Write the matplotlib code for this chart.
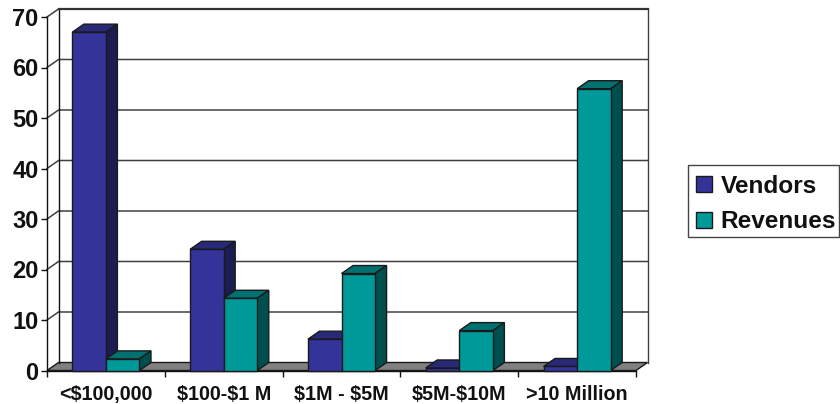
import numpy as np
import matplotlib
matplotlib.use('Agg')
import matplotlib.pyplot as plt
from matplotlib.patches import Polygon, Patch, Rectangle

categories = ['<$100,000', '$100-$1 M', '$1M - $5M', '$5M-$10M', '>10 Million']
vendors = [67, 24, 6.2, 0.5, 0.8]
revenues = [2.3, 14.3, 19.2, 7.9, 55.8]
y_ticks = [0, 10, 20, 30, 40, 50, 60, 70]

plt.rcParams['font.family'] = ['Liberation Sans', 'DejaVu Sans']
plt.rcParams['font.weight'] = 'bold'
plt.rcParams['text.parse_math'] = False  # labels have dollar signs

W, H = 840, 404
LEFT, RIGHT, BOTTOM, TOP = 47, 636, 370.5, 17

BAR_W = 0.285
DX = 11.5 / ((RIGHT - LEFT) / len(categories))  # depth in category units
DY = 8 / ((BOTTOM - TOP) / 70)                  # depth in value units
EDGE = '#1a1a1a'


def add_poly(ax, pts, color, z, lw=1.0, ec=EDGE):
    ax.add_patch(Polygon(pts, closed=True, facecolor=color, edgecolor=ec,
                         linewidth=lw, zorder=z, clip_on=False, joinstyle='miter'))


def draw_bar(ax, x, val, front, top, side, z):
    ax.bar(x, val, BAR_W, align='edge', color=front, edgecolor=EDGE, linewidth=1.0,
           zorder=z + 0.2, clip_on=False)
    add_poly(ax, [(x, val), (x + DX, val + DY), (x + BAR_W + DX, val + DY), (x + BAR_W, val)], top, z)
    add_poly(ax, [(x + BAR_W, 0), (x + BAR_W + DX, DY), (x + BAR_W + DX, val + DY), (x + BAR_W, val)], side, z)


fig = plt.figure(figsize=(W / 100, H / 100), dpi=100, facecolor='white')
ax = fig.add_axes([LEFT / W, 1 - BOTTOM / H, (RIGHT - LEFT) / W, (BOTTOM - TOP) / H])
ax.set_xlim(0, len(categories))
ax.set_ylim(0, 70)
ax.patch.set_visible(False)

n = len(categories)

# floor of the 3d box
add_poly(ax, [(0, 0), (DX, DY), (n + DX, DY), (n, 0)], '#808080', 1)

# gridlines across back wall and side wall
for v in y_ticks[1:]:
    ax.plot([0, DX, n + DX], [v, v + DY, v + DY], color='#404040', lw=1.1, zorder=1.5,
            clip_on=False, solid_joinstyle='miter')
ax.plot([DX, DX], [DY, 70 + DY], color='#111111', lw=1.0, zorder=1.5, clip_on=False)
ax.plot([n + DX, n + DX], [DY, 70 + DY], color='#404040', lw=1.0, zorder=1.5, clip_on=False)
ax.plot([DX, n + DX], [70 + DY, 70 + DY], color='#333333', lw=1.6, zorder=1.6, clip_on=False)

# bars, left to right so neighbours overlap properly
for i in range(n):
    x0 = i + 0.5 - BAR_W
    draw_bar(ax, x0, vendors[i], '#333399', '#29297a', '#1c1c50', 3 + i)
    draw_bar(ax, x0 + BAR_W, revenues[i], '#009999', '#007070', '#004f4f', 3.5 + i)

for s in ['top', 'right']:
    ax.spines[s].set_visible(False)
for s in ['left', 'bottom']:
    ax.spines[s].set_linewidth(1.0)
    ax.spines[s].set_color('#111111')
    ax.spines[s].set_zorder(2)

ax.set_yticks(y_ticks)
ax.tick_params(axis='y', labelsize=17, length=4, width=1, pad=2, colors='#111111')
ax.set_xticks(np.arange(n + 1))
ax.set_xticklabels([])
ax.tick_params(axis='x', which='major', length=4.5, width=1, color='#111111')
ax.set_xticks(np.arange(n) + 0.5, minor=True)
ax.set_xticklabels(categories, minor=True)
ax.tick_params(axis='x', which='minor', length=0, labelsize=14.2, pad=10.5, labelcolor='#111111')

# legend box is drawn apart, the entries sit a bit low inside it
fig.add_artist(Rectangle((688 / W, 1 - 237 / H), 151 / W, 72 / H, transform=fig.transFigure,
                         facecolor='white', edgecolor='#444444', linewidth=1.0))
handles = [Patch(facecolor='#333399', edgecolor=EDGE, label='Vendors'),
           Patch(facecolor='#009999', edgecolor=EDGE, label='Revenues')]
leg = fig.legend(handles=handles, loc='center left', bbox_to_anchor=(689 / W, 1 - 204 / H),
                 fontsize=17.6, frameon=False, handlelength=0.66, handleheight=0.66,
                 handletextpad=0.36, labelspacing=0.52, borderpad=0.27, borderaxespad=0,
                 labelcolor='#111111')

fig.savefig('out.png', dpi=100)
